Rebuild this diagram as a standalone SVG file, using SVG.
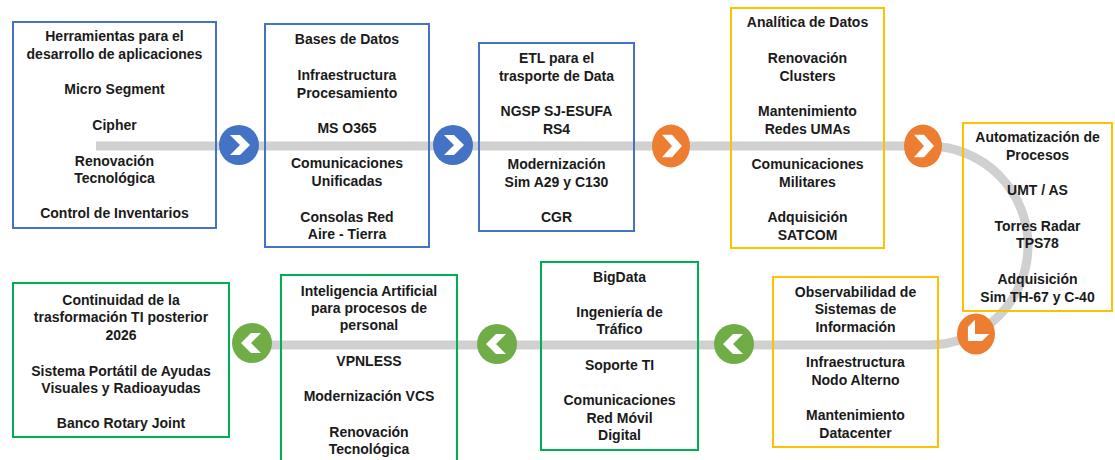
<svg xmlns="http://www.w3.org/2000/svg" xmlns:xlink="http://www.w3.org/1999/xlink" width="1115" height="460" viewBox="0 0 1115 460">
<style>
  .box { fill: none; stroke-width: 2; }
  .blue { stroke: #4472C4; }
  .yellow { stroke: #FFC000; }
  .green { stroke: #00B050; }
  text { font-family: "Liberation Sans", Arial, sans-serif; font-weight: bold; font-size: 14px; fill: #1a1a1a; text-anchor: middle; }
  .track { fill: none; stroke: #D0D0D0; stroke-width: 9; }
  .chev { fill: #fff; }
</style>
<defs>
  <path id="chev" d="M-10,-10 L0,-10 L10,0 L0,10 L-10,10 L0,0 Z"/>
</defs>
<rect width="1115" height="460" fill="#fff"/>
<g id="connectors">
  <path class="track" d="M96,146 L928.5,146 A99.5,99.5 0 0 1 928.5,345 L250,345"/>
</g>
<g id="node1">
  <rect class="box blue" x="13" y="22" width="203" height="206"/>
  <text x="114.5" y="41">Herramientas para el</text>
  <text x="114.5" y="59">desarrollo de aplicaciones</text>
  <text x="114.5" y="94">Micro Segment</text>
  <text x="114.5" y="130">Cipher</text>
  <text x="114.5" y="166">Renovación</text>
  <text x="114.5" y="183">Tecnológica</text>
  <text x="114.5" y="218">Control de Inventarios</text>
</g>
<g id="node2">
  <rect class="box blue" x="265" y="24" width="164" height="223"/>
  <text x="347" y="44">Bases de Datos</text>
  <text x="347" y="80">Infraestructura</text>
  <text x="347" y="98">Procesamiento</text>
  <text x="347" y="133">MS O365</text>
  <text x="347" y="168">Comunicaciones</text>
  <text x="347" y="186">Unificadas</text>
  <text x="347" y="222">Consolas Red</text>
  <text x="347" y="239">Aire - Tierra</text>
</g>
<g id="node3">
  <rect class="box blue" x="479" y="43" width="155" height="188"/>
  <text x="556.5" y="63">ETL para el</text>
  <text x="556.5" y="81">trasporte de Data</text>
  <text x="556.5" y="116">NGSP SJ-ESUFA</text>
  <text x="556.5" y="134">RS4</text>
  <text x="556.5" y="169">Modernización</text>
  <text x="556.5" y="187">Sim A29 y C130</text>
  <text x="556.5" y="222">CGR</text>
</g>
<g id="node4">
  <rect class="box yellow" x="731" y="8" width="153" height="240"/>
  <text x="807.5" y="27">Analítica de Datos</text>
  <text x="807.5" y="62.5">Renovación</text>
  <text x="807.5" y="80.5">Clusters</text>
  <text x="807.5" y="116">Mantenimiento</text>
  <text x="807.5" y="133.5">Redes UMAs</text>
  <text x="807.5" y="169">Comunicaciones</text>
  <text x="807.5" y="187">Militares</text>
  <text x="807.5" y="222">Adquisición</text>
  <text x="807.5" y="240">SATCOM</text>
</g>
<g id="node5">
  <rect class="box yellow" x="963" y="123" width="149" height="188"/>
  <text x="1037.5" y="142">Automatización de</text>
  <text x="1037.5" y="159.5">Procesos</text>
  <text x="1037.5" y="195">UMT / AS</text>
  <text x="1037.5" y="231">Torres Radar</text>
  <text x="1037.5" y="248">TPS78</text>
  <text x="1037.5" y="284">Adquisición</text>
  <text x="1037.5" y="301.5">Sim TH-67 y C-40</text>
</g>
<g id="node6">
  <rect class="box yellow" x="773" y="277" width="165" height="170"/>
  <text x="855.5" y="296.5">Observabilidad de</text>
  <text x="855.5" y="314">Sistemas de</text>
  <text x="855.5" y="332">Información</text>
  <text x="855.5" y="367">Infraestructura</text>
  <text x="855.5" y="385">Nodo Alterno</text>
  <text x="855.5" y="419.5">Mantenimiento</text>
  <text x="855.5" y="437.5">Datacenter</text>
</g>
<g id="node7">
  <rect class="box green" x="541" y="262" width="157" height="188"/>
  <text x="619.5" y="282">BigData</text>
  <text x="619.5" y="317">Ingeniería de</text>
  <text x="619.5" y="334">Tráfico</text>
  <text x="619.5" y="370">Soporte TI</text>
  <text x="619.5" y="405">Comunicaciones</text>
  <text x="619.5" y="423">Red Móvil</text>
  <text x="619.5" y="440">Digital</text>
</g>
<g id="node8">
  <rect class="box green" x="281" y="275" width="176" height="190"/>
  <text x="369" y="296">Inteligencia Artificial</text>
  <text x="369" y="313">para procesos de</text>
  <text x="369" y="330">personal</text>
  <text x="369" y="366">VPNLESS</text>
  <text x="369" y="401">Modernización VCS</text>
  <text x="369" y="437">Renovación</text>
  <text x="369" y="454">Tecnológica</text>
</g>
<g id="node9">
  <rect class="box green" x="13" y="283" width="216" height="154"/>
  <text x="121" y="305">Continuidad de la</text>
  <text x="121" y="322">trasformación TI posterior</text>
  <text x="121" y="340">2026</text>
  <text x="121" y="376">Sistema Portátil de Ayudas</text>
  <text x="121" y="393">Visuales y Radioayudas</text>
  <text x="121" y="428">Banco Rotary Joint</text>
</g>
<g id="marker1">
  <circle cx="239" cy="145" r="20" fill="#4472C4"/>
  <use xlink:href="#chev" class="chev" transform="translate(240,145)"/>
</g>
<g id="marker2">
  <circle cx="453" cy="145" r="20" fill="#4472C4"/>
  <use xlink:href="#chev" class="chev" transform="translate(454,145)"/>
</g>
<g id="marker3">
  <ellipse cx="671" cy="146" rx="19" ry="21.5" fill="#ED7D31"/>
  <use xlink:href="#chev" class="chev" transform="translate(672,146) scale(1,1.12)"/>
</g>
<g id="marker4">
  <ellipse cx="923" cy="146" rx="19" ry="21.5" fill="#ED7D31"/>
  <use xlink:href="#chev" class="chev" transform="translate(924,146) scale(1,1.12)"/>
</g>
<g id="marker5">
  <ellipse cx="976" cy="334" rx="19" ry="20.5" fill="#ED7D31"/>
  <use xlink:href="#chev" class="chev" transform="translate(975,334) rotate(135)"/>
</g>
<g id="marker6">
  <circle cx="734" cy="344" r="20" fill="#70AD47"/>
  <use xlink:href="#chev" class="chev" transform="translate(733,344) scale(-1,1)"/>
</g>
<g id="marker7">
  <circle cx="497" cy="344" r="20" fill="#70AD47"/>
  <use xlink:href="#chev" class="chev" transform="translate(496,344) scale(-1,1)"/>
</g>
<g id="marker8">
  <circle cx="252" cy="343" r="20" fill="#70AD47"/>
  <use xlink:href="#chev" class="chev" transform="translate(251,343) scale(-1,1)"/>
</g>
</svg>
